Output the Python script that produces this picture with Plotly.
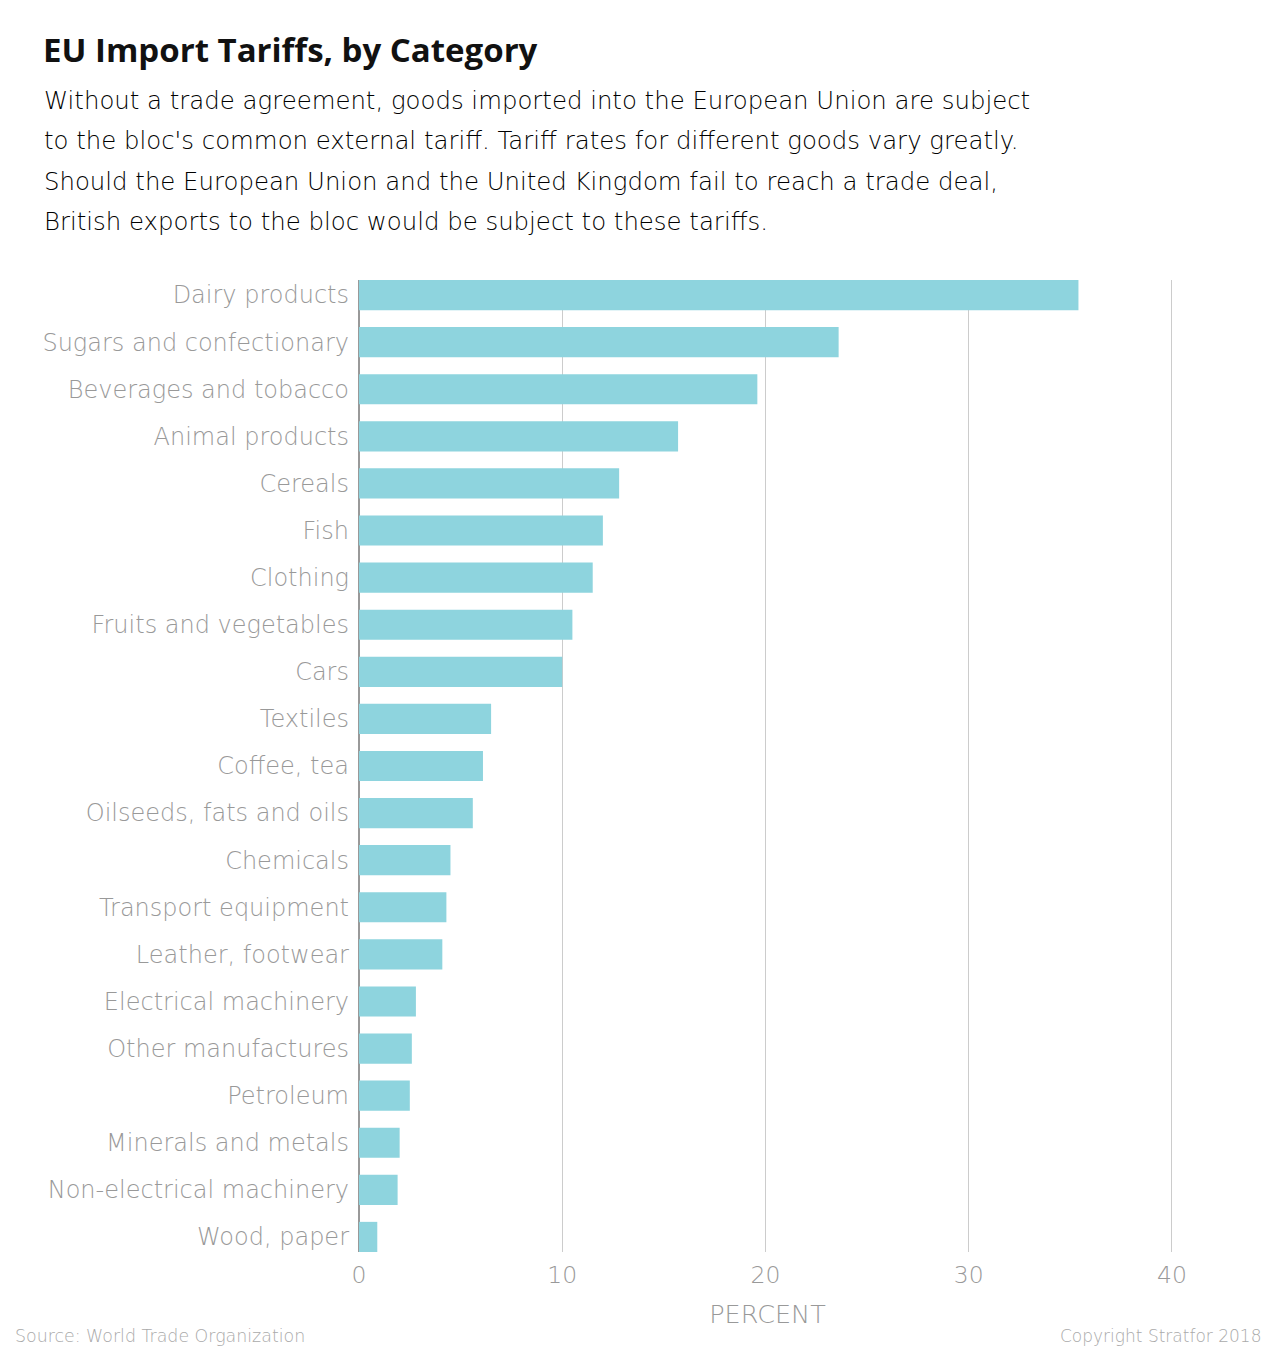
import plotly.graph_objects as go

categories = ["Dairy products", "Sugars and confectionary", "Beverages and tobacco",
              "Animal products", "Cereals", "Fish", "Clothing", "Fruits and vegetables",
              "Cars", "Textiles", "Coffee, tea", "Oilseeds, fats and oils", "Chemicals",
              "Transport equipment", "Leather, footwear", "Electrical machinery",
              "Other manufactures", "Petroleum", "Minerals and metals",
              "Non-electrical machinery", "Wood, paper"]
tariffs = [35.4, 23.6, 19.6, 15.7, 12.8, 12.0, 11.5, 10.5, 10.0, 6.5, 6.1, 5.6,
           4.5, 4.3, 4.1, 2.8, 2.6, 2.5, 2.0, 1.9, 0.9]
x_ticks = [0, 10, 20, 30, 40]

title = "EU Import Tariffs, by Category"
subtitle_lines = [
    "Without a trade agreement, goods imported into the European Union are subject",
    "to the bloc's common external tariff. Tariff rates for different goods vary greatly.",
    "Should the European Union and the United Kingdom fail to reach a trade deal,",
    "British exports to the bloc would be subject to these tariffs.",
]
source = "Source: World Trade Organization"
copyright_txt = "Copyright Stratfor 2018"

W, H = 1280, 1369
ML, MR, MT, MB = 359, 104, 280, 117
PW, PH = W - ML - MR, H - MT - MB

def px(x):
    return (x - ML) / PW

def py(y):
    return 1 - (y - MT) / PH

FONT = "DejaVu Sans"
GRAY = "#999999"

fig = go.Figure(go.Bar(
    x=tariffs, y=categories, orientation="h",
    marker=dict(color="#8ed4de", line=dict(width=0)),
    width=0.64, hoverinfo="x+y",
))

fig.update_layout(
    width=W, height=H,
    margin=dict(l=ML, r=MR, t=MT, b=MB),
    plot_bgcolor="white", paper_bgcolor="white",
    showlegend=False,
    xaxis=dict(
        range=[0, 40.2], tickvals=x_ticks, showgrid=True, gridcolor="#cccccc", gridwidth=1,
        zeroline=True, zerolinecolor="#999999", zerolinewidth=2,
        tickfont=dict(family=FONT, size=23.5, color=GRAY, weight=200),
        ticks="", ticklabelstandoff=6,
        title=dict(text="PERCENT", font=dict(family=FONT, size=25.5, color=GRAY, weight=200), standoff=17),
        fixedrange=True,
    ),
    yaxis=dict(
        type="category", categoryorder="array", categoryarray=categories,
        range=[20.32, -0.32], showgrid=False, zeroline=False,
        tickfont=dict(family=FONT, size=24, color=GRAY, weight=200),
        ticks="", ticklabelstandoff=9,
        fixedrange=True,
    ),
)

ann = [
    dict(text="<b>" + title + "</b>", x=px(41), y=py(49), xanchor="left", yanchor="middle",
         font=dict(family="Open Sans", size=33, color="#111111", weight=800)),
]
for i, line in enumerate(subtitle_lines):
    ann.append(dict(text=line, x=px(42), y=py(101 + 40 * i), xanchor="left", yanchor="middle",
                    font=dict(family=FONT, size=24.4, color="#000000", weight=200)))
ann.append(dict(text=source, x=px(13), y=py(1336), xanchor="left", yanchor="middle",
                font=dict(family=FONT, size=17.4, color="#aaaaaa", weight=200)))
ann.append(dict(text=copyright_txt, x=px(1263), y=py(1336), xanchor="right", yanchor="middle",
                font=dict(family=FONT, size=17, color="#aaaaaa", weight=200)))
for a in ann:
    a.update(xref="paper", yref="paper", showarrow=False)
fig.update_layout(annotations=ann)

fig.write_html("out.html")
